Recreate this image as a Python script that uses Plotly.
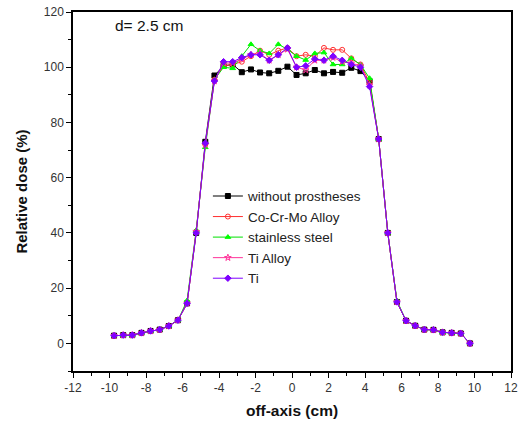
import plotly.graph_objects as go

x = [-9.75, -9.25, -8.75, -8.25, -7.75, -7.25, -6.75, -6.25, -5.75, -5.25,
     -4.75, -4.25, -3.75, -3.25, -2.75, -2.25, -1.75, -1.25, -0.75, -0.25,
     0.25, 0.75, 1.25, 1.75, 2.25, 2.75, 3.25, 3.75, 4.25, 4.75,
     5.25, 5.75, 6.25, 6.75, 7.25, 7.75, 8.25, 8.75, 9.25, 9.75]

left_tail = [2.8, 3.0, 3.0, 3.8, 4.5, 5.0, 6.3, 8.4]
right_tail = [8.2, 6.4, 5.0, 4.9, 4.0, 3.8, 3.6, 0.0]

without_prostheses = left_tail + [14.5, 40.0, 73.0,
    97.0, 100.5, 101.0, 98.2, 99.2, 98.1, 97.8, 98.7, 100.2, 97.2, 97.8, 99.0, 97.8, 98.3, 98.0, 99.8, 98.6, 95.0,
    74.0, 40.0, 15.0] + right_tail
co_cr_mo = left_tail + [14.5, 40.5, 72.0,
    95.5, 100.5, 101.0, 102.0, 104.0, 106.0, 104.5, 106.0, 107.0, 104.0, 104.5, 104.0, 107.0, 106.3, 106.3, 103.2, 101.0, 94.5,
    74.0, 40.0, 15.0] + right_tail
stainless_steel = left_tail + [15.5, 41.0, 71.0,
    95.5, 100.0, 99.6, 104.0, 108.3, 106.0, 105.0, 108.3, 106.5, 104.0, 102.6, 105.0, 105.3, 101.0, 101.0, 103.2, 101.0, 96.0,
    74.0, 40.0, 15.5] + right_tail
ti_alloy = left_tail + [14.5, 40.5, 72.0,
    95.0, 101.5, 101.5, 103.0, 104.5, 105.0, 102.5, 104.5, 106.5, 100.0, 99.0, 102.5, 102.5, 103.5, 102.0, 101.5, 100.5, 93.5,
    74.0, 40.0, 15.0] + right_tail
ti = left_tail + [14.5, 40.0, 72.5,
    95.0, 102.0, 102.0, 103.5, 104.5, 104.5, 102.5, 104.5, 107.0, 100.0, 100.5, 103.0, 102.5, 104.0, 102.5, 101.0, 100.0, 93.0,
    74.0, 40.0, 15.0] + right_tail

x_ticks = [-12, -10, -8, -6, -4, -2, 0, 2, 4, 6, 8, 10, 12]
x_tick_labels = ["-12", "-10", "-8", "-6", "-4", "-2", "0", "2", "4", "6", "8", "10", "12"]
y_ticks = [0, 20, 40, 60, 80, 100, 120]

series = [
    ("without prostheses", without_prostheses, "#000000", "square", "#000000"),
    ("Co-Cr-Mo Alloy", co_cr_mo, "#FF3030", "circle-open", "#FF3030"),
    ("stainless steel", stainless_steel, "#00E000", "triangle-up", "#00FF00"),
    ("Ti Alloy", ti_alloy, "#FF3399", "star-open", "#FF3399"),
    ("Ti", ti, "#7F00FF", "diamond", "#7F00FF"),
]

fig = go.Figure()
for name, vals, lc, sym, mc in series:
    fig.add_trace(go.Scatter(
        x=x, y=vals, name=name, mode="lines+markers",
        line=dict(color=lc, width=1),
        marker=dict(symbol=sym, size=5, color=mc, line=dict(color=mc, width=1)),
    ))

font_family = "Liberation Sans, Arial"
axis_common = dict(
    showline=True, linecolor="black", linewidth=1.5, mirror=True,
    ticks="outside", ticklen=5, tickwidth=1.2, tickcolor="black",
    showgrid=False, zeroline=False, automargin=False,
    tickfont=dict(family=font_family, size=12, color="#333333"),
)

fig.update_xaxes(range=[-12, 12], tickmode="array", tickvals=x_ticks, ticktext=x_tick_labels,
                 minor=dict(dtick=1, tick0=0, ticks="outside", ticklen=3, tickcolor="black"),
                 title=dict(text="<b>off-axis (cm)</b>", font=dict(family=font_family, size=15.5, color="#111111"), standoff=11),
                 **axis_common)
fig.update_yaxes(range=[-10, 120], tickmode="array", tickvals=y_ticks,
                 minor=dict(tickvals=[-10, 10, 30, 50, 70, 90, 110], ticks="outside", ticklen=3, tickcolor="black"),
                 title=dict(text="<b>Relative dose (%)</b>", font=dict(family=font_family, size=15, color="#111111"), standoff=13),
                 **axis_common)

fig.add_annotation(text="d= 2.5 cm", x=-9.8, y=115, xref="x", yref="y",
                   xanchor="left", yanchor="middle", showarrow=False,
                   font=dict(family=font_family, size=15.5, color="#111111"))

fig.update_layout(
    width=519, height=423,
    margin=dict(l=73, r=8, t=12, b=52),
    paper_bgcolor="white", plot_bgcolor="white",
    font=dict(family=font_family, size=12, color="#111111"),
    legend=dict(x=0.308, y=0.53, xanchor="left", yanchor="top",
                bgcolor="rgba(0,0,0,0)", font=dict(size=13.5, family=font_family, color="#222222"),
                tracegroupgap=0, itemwidth=30),
)

fig.write_html("out.html", config={"displayModeBar": False},
               post_script="document.body.style.margin='0';document.body.style.padding='0';")
